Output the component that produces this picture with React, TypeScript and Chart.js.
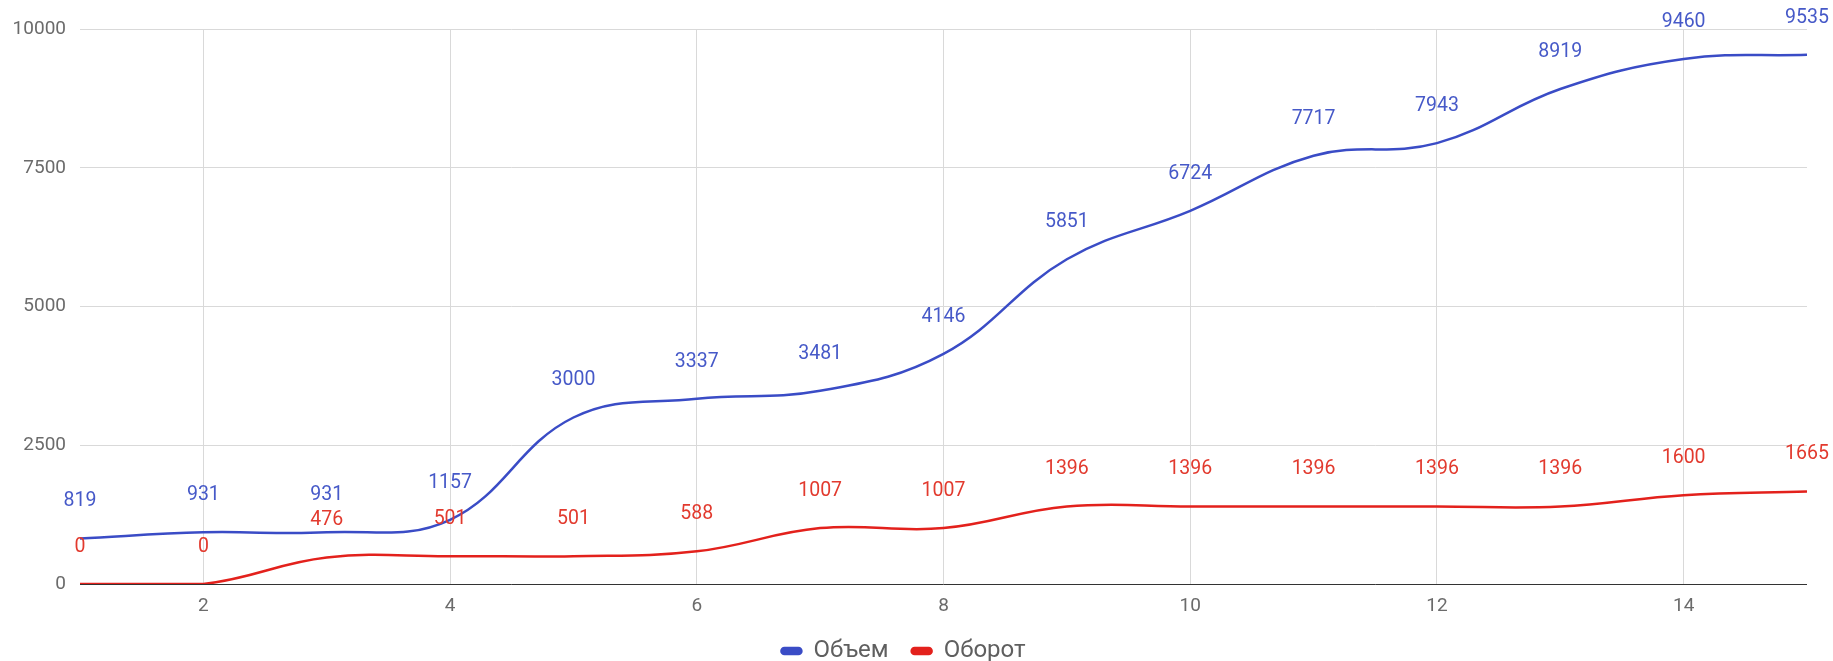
import React, { useEffect, useRef } from "react";
import { Chart, registerables } from "chart.js";

Chart.register(...registerables);

const xValues = [1, 2, 3, 4, 5, 6, 7, 8, 9, 10, 11, 12, 13, 14, 15];
const volume = [819, 931, 931, 1157, 3000, 3337, 3481, 4146, 5851, 6724, 7717, 7943, 8919, 9460, 9535];
const turnover = [0, 0, 476, 501, 501, 588, 1007, 1007, 1396, 1396, 1396, 1396, 1396, 1600, 1665];
const xTicks = [2, 4, 6, 8, 10, 12, 14];
const yTicks = [0, 2500, 5000, 7500, 10000];
const seriesNames = ["Объем", "Оборот"];

const FONT = "Roboto, 'Noto Sans', Arial, sans-serif";

const labelPlugin = {
  id: "pointLabels",
  afterLayout(chart: any) {
    if (chart.legend) {
      chart.legend.top += 12;
      chart.legend.bottom += 12;
    }
    if (chart.scales && chart.scales.x) {
      chart.scales.x.bottom = chart.height;
    }
  },
  afterDatasetsDraw(chart: any) {
    const ctx = chart.ctx;
    ctx.save();
    ctx.font = `19.5px ${FONT}`;
    ctx.textAlign = "center";
    ctx.textBaseline = "middle";
    chart.data.datasets.forEach((ds: any, i: number) => {
      const meta = chart.getDatasetMeta(i);
      ctx.fillStyle = ds.labelColor;
      meta.data.forEach((pt: any, j: number) => {
        const v = ds.data[j].y;
        ctx.fillText(String(v), pt.x, pt.y - 37);
      });
    });
    ctx.restore();
  },
};

export default function App() {
  const ref = useRef<HTMLCanvasElement>(null);
  useEffect(() => {
    const chart = new Chart(ref.current as HTMLCanvasElement, {
      type: "line",
      data: {
        datasets: [
          {
            label: seriesNames[0],
            data: xValues.map((x, i) => ({ x, y: volume[i] })),
            borderColor: "#3a4cc6",
            backgroundColor: "#3a4cc6",
            borderWidth: 2.5,
            pointRadius: 0,
            tension: 0.4,
            labelColor: "#4659c8",
          } as any,
          {
            label: seriesNames[1],
            data: xValues.map((x, i) => ({ x, y: turnover[i] })),
            borderColor: "#e3211c",
            backgroundColor: "#e3211c",
            borderWidth: 2.5,
            pointRadius: 0,
            tension: 0.4,
            labelColor: "#e23a2e",
          } as any,
        ],
      },
      options: {
        responsive: false,
        animation: false,
        events: [],
        layout: { padding: { top: 29, right: 26, left: 0, bottom: 0 } },
        plugins: {
          tooltip: { enabled: false },
          legend: {
            position: "bottom",
            labels: {
              boxWidth: 20,
              boxHeight: 6,
              useBorderRadius: true,
              borderRadius: 3,
              padding: 23,
              color: "#5f5f5f",
              font: { family: FONT, size: 24 },
            },
          },
        },
        scales: {
          x: {
            type: "linear",
            min: 1,
            max: 15,
            afterBuildTicks: (s: any) => {
              s.ticks = xTicks.map((v) => ({ value: v }));
            },
            afterFit: (s: any) => {
              s.height = 20;
            },
            grid: { color: "#d9d9d9", drawTicks: false, lineWidth: 1 },
            border: { display: false },
            ticks: {
              padding: 11,
              color: "#6b6b6b",
              font: { family: FONT, size: 19 },
              maxRotation: 0,
              callback: (v: any) => String(v),
            },
          },
          y: {
            min: 0,
            max: 10000,
            afterBuildTicks: (s: any) => {
              s.ticks = yTicks.map((v) => ({ value: v }));
            },
            afterFit: (s: any) => {
              s.width = 80;
            },
            grid: {
              color: (c: any) => (c.tick && c.tick.value === 0 ? "#333333" : "#d9d9d9"),
              drawTicks: false,
              lineWidth: 1,
            },
            border: { display: false },
            ticks: {
              padding: 14,
              color: "#6b6b6b",
              font: { family: FONT, size: 19 },
              callback: (v: any) => String(v),
            },
          },
        },
      },
      plugins: [labelPlugin],
    } as any);
    return () => chart.destroy();
  }, []);
  return (
    <div style={{ position: "absolute", left: 0, top: 0, width: 1833, height: 661, background: "#fff" }}>
      <canvas ref={ref} width={1833} height={661} />
    </div>
  );
}
